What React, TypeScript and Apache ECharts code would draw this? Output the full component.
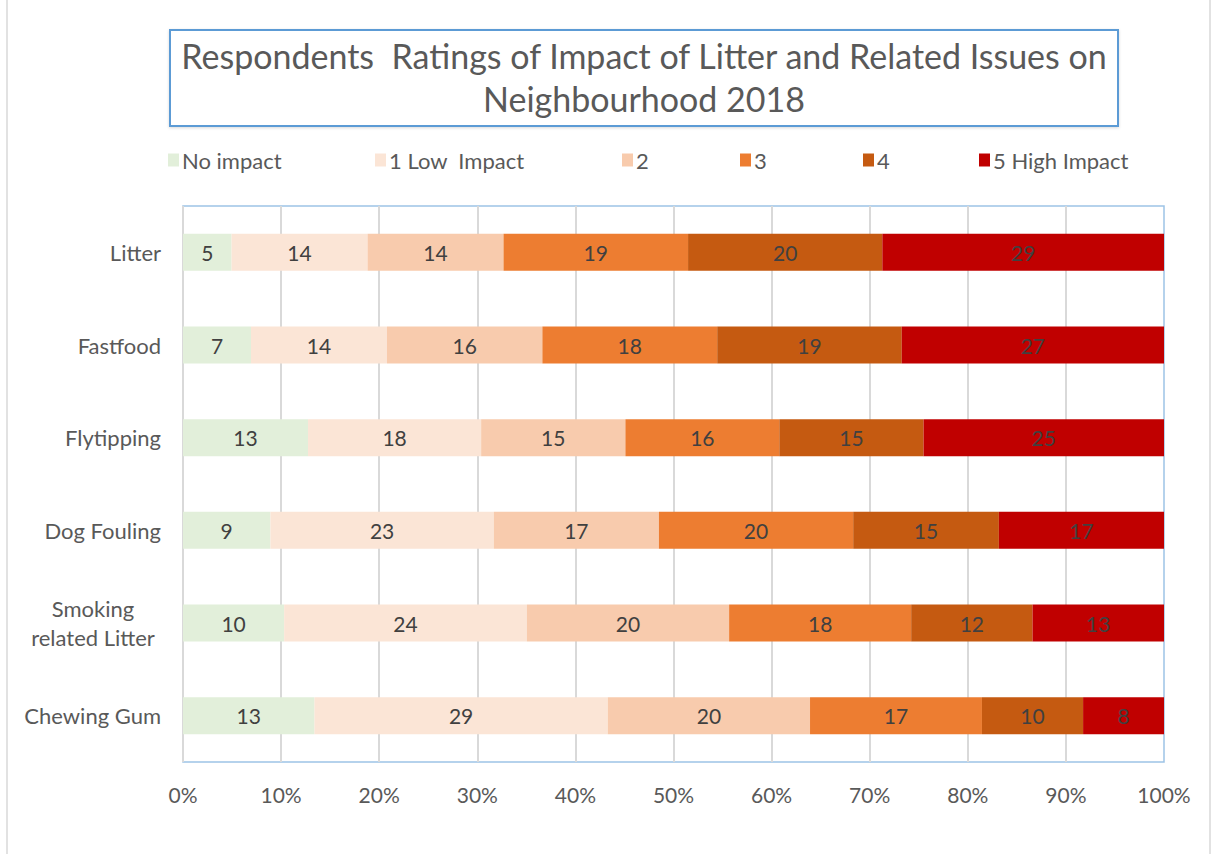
import React, { useEffect, useRef } from "react";
import * as echarts from "echarts";

const categories = ["Litter", "Fastfood", "Flytipping", "Dog Fouling", "Smoking related Litter", "Chewing Gum"];
const seriesNames = ["No impact", "1 Low  Impact", "2", "3", "4", "5 High Impact"];
const noImpact = [5, 7, 13, 9, 10, 13];
const low1 = [14, 14, 18, 23, 24, 29];
const r2 = [14, 16, 15, 17, 20, 20];
const r3 = [19, 18, 16, 20, 18, 17];
const r4 = [20, 19, 15, 15, 12, 10];
const high5 = [29, 27, 25, 17, 13, 8];
const xTicks = ["0%", "10%", "20%", "30%", "40%", "50%", "60%", "70%", "80%", "90%", "100%"];
const colors = ["#E2EFDA", "#FBE5D6", "#F8CBAD", "#ED7D31", "#C55A11", "#C00000"];
const legendLefts = [163, 370, 617, 735, 858, 974];

const FONT = "Lato";

export default function App() {
  const ref = useRef<HTMLDivElement>(null);
  useEffect(() => {
    if (!ref.current) return;
    const chart = echarts.init(ref.current, null, { renderer: "svg" });
    const raw = [noImpact, low1, r2, r3, r4, high5];
    const totals = categories.map((_, i) => raw.reduce((s, arr) => s + arr[i], 0));
    const series = raw.map((arr, k) => ({
      name: seriesNames[k],
      type: "bar",
      stack: "total",
      barWidth: "40%",
      itemStyle: { color: colors[k] },
      data: arr.map((v, i) => ({ value: (v / totals[i]) * 100, raw: v })),
      label: {
        show: true,
        position: "inside",
        color: "#404040",
        fontFamily: FONT,
        fontSize: 21,
        formatter: (p: any) => String(p.data.raw),
      },
    }));
    const legends = seriesNames.map((n, k) => ({
      data: [n],
      left: legendLefts[k],
      top: 144,
      itemWidth: 11,
      itemHeight: 13,
      itemGap: 4,
      icon: "rect",
      textStyle: { color: "#595959", fontSize: 22, fontFamily: FONT, padding: [0, 0, 0, -2] },
    }));
    chart.setOption({
      animation: false,
      backgroundColor: "#ffffff",
      color: colors,
      graphic: [
        {
          type: "rect",
          shape: { x: 7, y: -4, width: 1203, height: 866 },
          style: { fill: "none", stroke: "#D9D9D9", lineWidth: 1.5 },
          silent: true,
        },
        {
          type: "rect",
          shape: { x: 170, y: 30, width: 948, height: 96 },
          style: { fill: "#ffffff", stroke: "#5B9BD5", lineWidth: 2, shadowColor: "rgba(0,0,0,0.15)", shadowBlur: 3, shadowOffsetY: 1 },
          silent: true,
        },
        {
          type: "text",
          x: 644,
          y: 77,
          style: {
            text: "Respondents  Ratings of Impact of Litter and Related Issues on\nNeighbourhood 2018",
            fill: "#595959",
            fontSize: 34,
            fontFamily: FONT,
            lineHeight: 43,
            align: "center",
            verticalAlign: "middle",
          },
          silent: true,
        },
      ],
      legend: legends,
      grid: {
        left: 183,
        right: 48,
        top: 206,
        bottom: 92,
        show: true,
        borderColor: "#9DC3E6",
        borderWidth: 1.5,
        containLabel: false,
      },
      xAxis: {
        type: "value",
        min: 0,
        max: 100,
        interval: 10,
        axisLine: { show: false },
        axisTick: { show: false },
        splitLine: { show: true, showMaxLine: false, lineStyle: { color: "#D9D9D9", width: 2 } },
        axisLabel: {
          color: "#595959",
          fontSize: 21,
          fontFamily: FONT,
          margin: 22,
          formatter: (v: number) => xTicks[Math.round(v / 10)],
        },
      },
      yAxis: {
        type: "category",
        inverse: true,
        data: categories,
        axisLine: { show: false },
        axisTick: { show: false },
        axisLabel: {
          color: "#595959",
          fontSize: 22,
          fontFamily: FONT,
          margin: 22,
          formatter: (v: string) => {
            if (v === "Smoking related Litter") return "{c|Smoking}\n{c|related Litter}";
            return v;
          },
          rich: {
            c: { width: 136, align: "center", fontSize: 22, fontFamily: FONT, color: "#595959", lineHeight: 29 },
          },
        },
      },
      series,
    });
    return () => chart.dispose();
  }, []);
  return <div ref={ref} style={{ position: "absolute", left: 0, top: 0, width: 1212, height: 854 }} />;
}
